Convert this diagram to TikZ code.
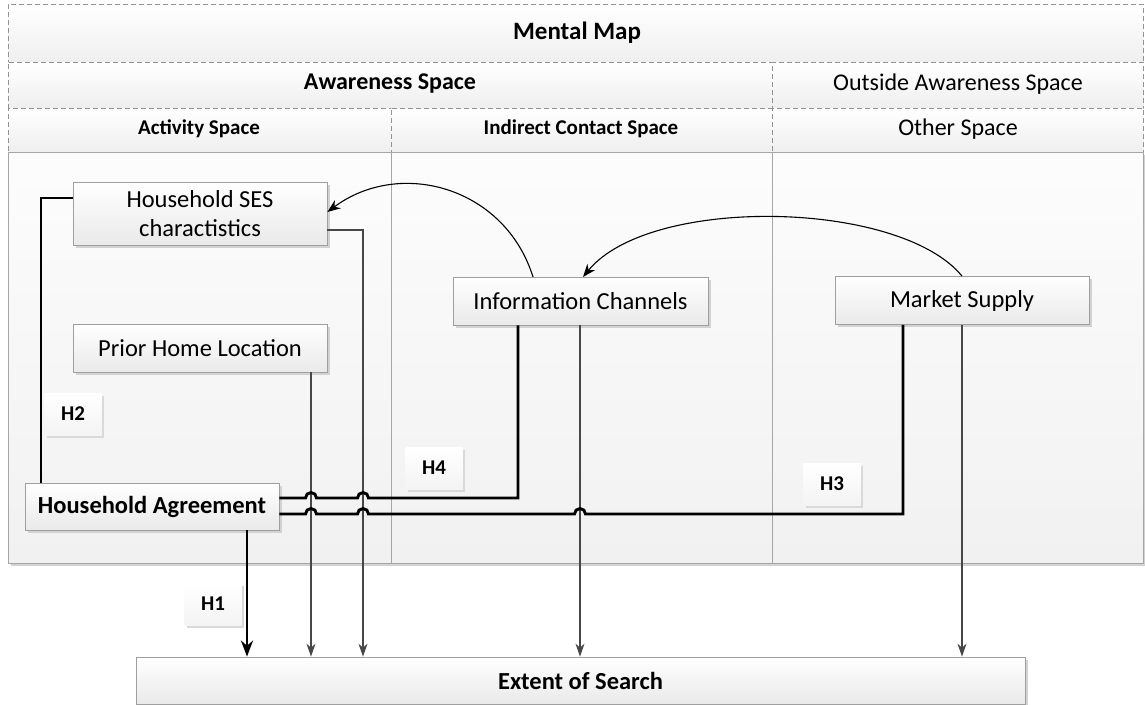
\documentclass[tikz,border=0pt]{standalone}
\usepackage{fontspec}
\setmainfont{Carlito}
\usetikzlibrary{arrows.meta,shadows,calc}
\begin{document}
\begin{tikzpicture}[x=1pt,y=1pt,
  band/.style={draw=gray!85, dashed, dash pattern=on 5pt off 3pt, line width=0.8pt, top color=white, bottom color=gray!13, inner sep=0pt, anchor=north west},
  bodyarea/.style={draw=gray!70, line width=0.9pt, top color=gray!2, bottom color=gray!11},
  box/.style={draw=gray!75, line width=0.8pt, top color=white, bottom color=gray!17, inner sep=0pt, align=center,
    font=\fontsize{24.5}{29}\selectfont,
    drop shadow={shadow xshift=2.5pt, shadow yshift=-2.5pt, fill=gray!35, opacity=1}},
  hbox/.style={top color=white, bottom color=gray!9, inner sep=0pt, minimum width=57pt, minimum height=42pt,
    font=\bfseries\fontsize{21}{24}\selectfont,
    drop shadow={shadow xshift=2.5pt, shadow yshift=-2.5pt, fill=gray!30, opacity=1}},
  thk/.style={line width=2.9pt, black},
  thn/.style={line width=1.2pt, black!72, -{Stealth[length=13pt,width=9pt]}},
  crv/.style={line width=1.1pt, black, -{Stealth[length=13pt,width=10pt]}}
]
\useasboundingbox (0,0) rectangle (1145,-704);

% header bands
\node[band, minimum width=1135, minimum height=58] (mm) at (8,-4) {};
\node[font=\bfseries\fontsize{25}{28}\selectfont] (mmt) at (577,-33) {Mental Map};
\node[band, minimum width=764, minimum height=46] (aw) at (8,-62) {};
\node[font=\bfseries\fontsize{24}{28}\selectfont] (awt) at (390,-84) {Awareness Space};
\node[band, minimum width=371, minimum height=46] (oa) at (772,-62) {};
\node[font=\fontsize{24}{28}\selectfont] (oat) at (958,-84) {Outside Awareness Space};
\node[band, minimum width=383, minimum height=44] (as) at (8,-108) {};
\node[font=\bfseries\fontsize{21}{24}\selectfont] (ast) at (199,-129) {Activity Space};
\node[band, minimum width=381, minimum height=44] (ics) at (391,-108) {};
\node[font=\bfseries\fontsize{21}{24}\selectfont] (icst) at (581,-129) {Indirect Contact Space};
\node[band, minimum width=371, minimum height=44] (os) at (772,-108) {};
\node[font=\fontsize{24}{28}\selectfont] (ost) at (958,-129) {Other Space};

% body areas
\fill[gray!35] (11,-155) rectangle (1145,-566);
\draw[bodyarea] (8,-152) rectangle (391,-563);
\draw[bodyarea] (391,-152) rectangle (772,-563);
\draw[bodyarea] (772,-152) rectangle (1143,-563);

% x positions
\coordinate (xa) at (41,0);
\coordinate (xb) at (247,0);
\coordinate (xc) at (311,0);
\coordinate (xd) at (363,0);
\coordinate (xe) at (518,0);
\coordinate (xf) at (580,0);
\coordinate (xg) at (903,0);
\coordinate (xh) at (962,0);

% nodes
\node[box, minimum width=254, minimum height=63] (ses) at (200,-213.5) {Household SES\\charactistics};
\node[box, minimum width=254, minimum height=48] (prior) at (200,-348) {Prior Home Location};
\node[box, minimum width=254, minimum height=47, font=\bfseries\fontsize{24.5}{29}\selectfont] (agree) at (152,-506.5) {Household Agreement};
\node[box, minimum width=255, minimum height=48] (info) at (580.5,-301) {Information Channels};
\node[box, minimum width=254, minimum height=48] (market) at (962,-300.5) {Market Supply};
\node[box, minimum width=889, minimum height=47, font=\bfseries\fontsize{24.5}{29}\selectfont] (extent) at (580.5,-680.5) {Extent of Search};

\node[hbox] (h2) at (73,-414) {H2};
\node[hbox] (h4) at (434,-468) {H4};
\node[hbox] (h3) at (832,-484) {H3};
\node[hbox] (h1) at (213,-604) {H1};

% thin arrows to extent
\draw[thn] ([yshift=-16.5pt]ses.east) -| (xd |- extent.north);
\draw[thn] (xc |- prior.south) -- (xc |- extent.north);
\draw[thn] (xf |- info.south) -- (xf |- extent.north);
\draw[thn] (xh |- market.south) -- (xh |- extent.north);

% thick connectors
\draw[thk] ([yshift=15.5pt]ses.west) -| (xa |- agree.north);
\draw[thk] ([yshift=8.5pt]agree.east) -- (305.5,-498) arc[start angle=180,end angle=0,radius=5.5] -- (357.5,-498) arc[start angle=180,end angle=0,radius=5.5] -- (518,-498) -- (xe |- info.south);
\draw[thk] ([yshift=-7.5pt]agree.east) -- (305.5,-514) arc[start angle=180,end angle=0,radius=5.5] -- (357.5,-514) arc[start angle=180,end angle=0,radius=5.5] -- (574.5,-514) arc[start angle=180,end angle=0,radius=5.5] -- (903,-514) -- (xg |- market.south);
\draw[thk, -{Stealth[length=16pt,width=12pt]}] (xb |- agree.south) -- (xb |- extent.north);

% curved arrows
\draw[crv] (533,-277) .. controls (505,-187) and (400,-158) .. ([yshift=1.5pt]ses.east);
\draw[crv] (market.north) .. controls (900,-200) and (650,-195) .. (583,-277);
\end{tikzpicture}
\end{document}
